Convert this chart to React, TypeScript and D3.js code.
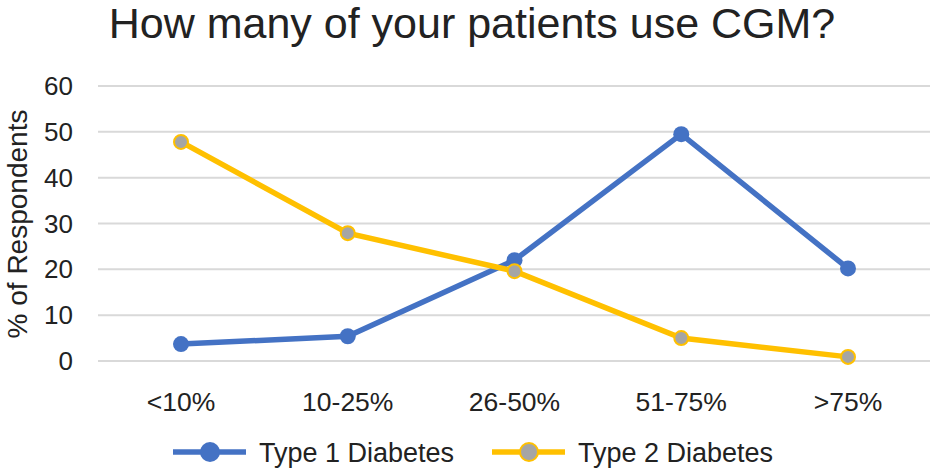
import React from "react";
import * as d3 from "d3";

const categories = ["<10%", "10-25%", "26-50%", "51-75%", ">75%"];
const type1 = [3.7, 5.4, 22, 49.5, 20.2];
const type2 = [47.8, 27.9, 19.6, 5, 0.9];
const yTicks = [0, 10, 20, 30, 40, 50, 60];

export default function App() {
  const W = 937, H = 473;
  const x = d3.scalePoint<string>().domain(categories).range([181, 848]);
  const y = d3.scaleLinear().domain([0, 60]).range([361, 86]);
  const line = d3.line<number>().x((_, i) => x(categories[i])!).y(d => y(d));
  const font = "Liberation Sans, Arial, sans-serif";
  const blue = "#4472C4", yellow = "#FFC000", gray = "#A5A5A5";
  return (
    <svg width={W} height={H} style={{ position: "absolute", left: 0, top: 0 }} fontFamily={font}>
      <rect width={W} height={H} fill="#fff" />
      <text x={472} y={38} textAnchor="middle" fontSize={43} fill="#222">How many of your patients use CGM?</text>
      {yTicks.map(t => (
        <g key={t}>
          <line x1={98} x2={930} y1={y(t)} y2={y(t)} stroke="#d9d9d9" strokeWidth={2} />
          <text x={73} y={y(t) + 9} textAnchor="end" fontSize={26} fill="#222">{t}</text>
        </g>
      ))}
      {categories.map(c => (
        <text key={c} x={x(c)} y={411} textAnchor="middle" fontSize={26.5} fill="#222">{c}</text>
      ))}
      <text transform="translate(27,224) rotate(-90)" textAnchor="middle" fontSize={28} fill="#222">% of Respondents</text>
      <path d={line(type1)!} fill="none" stroke={blue} strokeWidth={5.5} />
      <path d={line(type2)!} fill="none" stroke={yellow} strokeWidth={5.5} />
      {type1.map((v, i) => <circle key={"a" + i} cx={x(categories[i])} cy={y(v)} r={8} fill={blue} />)}
      {type2.map((v, i) => <circle key={"b" + i} cx={x(categories[i])} cy={y(v)} r={7} fill={gray} stroke={yellow} strokeWidth={2} />)}
      <line x1={173} x2={246} y1={452} y2={452} stroke={blue} strokeWidth={5.5} />
      <circle cx={210} cy={452} r={10} fill={blue} />
      <text x={259} y={462} fontSize={27} fill="#222">Type 1 Diabetes</text>
      <line x1={492} x2={565} y1={452} y2={452} stroke={yellow} strokeWidth={5.5} />
      <circle cx={529} cy={452} r={9} fill={gray} stroke={yellow} strokeWidth={2} />
      <text x={578} y={462} fontSize={27} fill="#222">Type 2 Diabetes</text>
    </svg>
  );
}
